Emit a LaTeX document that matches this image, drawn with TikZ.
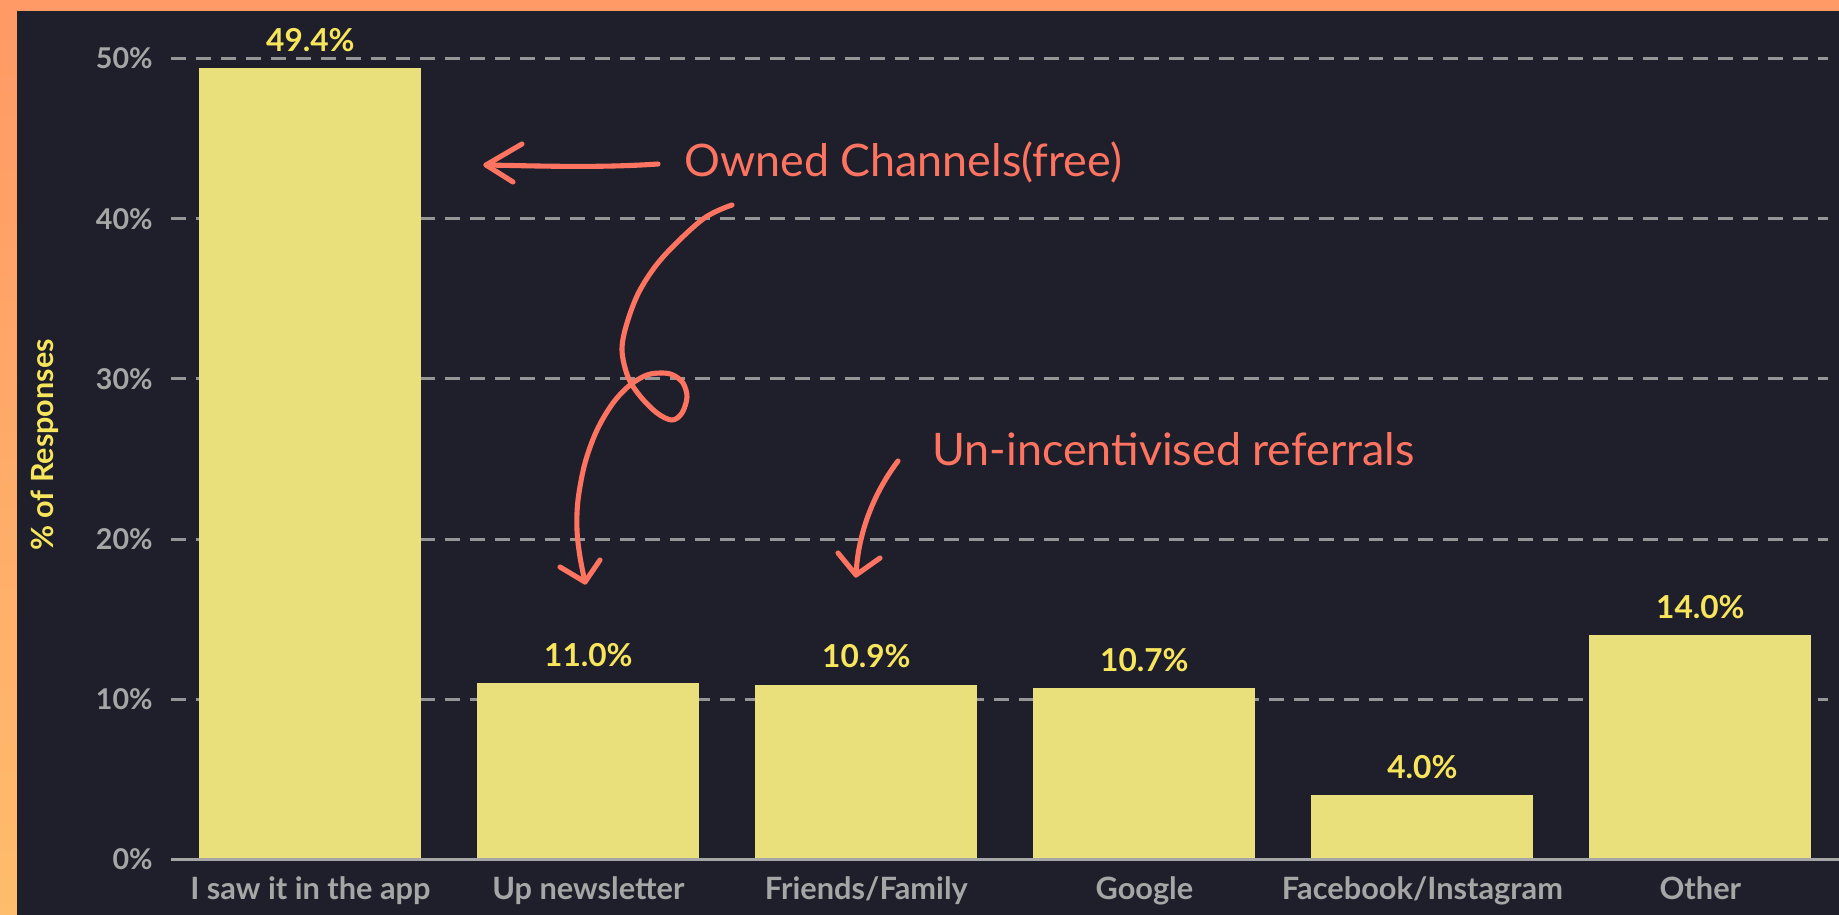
\documentclass[tikz,border=0pt]{standalone}
\usepackage{fontspec}
\setmainfont{Lato}

\definecolor{frametop}{RGB}{255,153,102}
\definecolor{framebot}{RGB}{255,188,108}
\definecolor{panel}{RGB}{31,31,43}
\definecolor{barfill}{RGB}{233,223,123}
\definecolor{valyellow}{RGB}{247,229,92}
\definecolor{axisgray}{RGB}{166,166,166}
\definecolor{gridgray}{RGB}{150,150,152}
\definecolor{coral}{RGB}{255,116,96}

\begin{document}
\begin{tikzpicture}[x=0.02cm, y=-0.02cm,
	tick/.style={text=axisgray, font=\fontsize{16.3}{19}\selectfont\bfseries, anchor=east, inner sep=0pt},
	val/.style={text=valyellow, font=\fontsize{18}{21}\selectfont\bfseries, anchor=base, inner sep=0pt},
	cat/.style={text=axisgray, font=\fontsize{17.5}{21}\selectfont\bfseries, anchor=base, inner sep=0pt},
	note/.style={text=coral, font=\fontsize{25.5}{30}\selectfont, anchor=west, inner sep=0pt},
	gridline/.style={draw=gridgray, line width=1.7pt, dash pattern=on 8.5pt off 5.7pt},
	scribble/.style={draw=coral, line width=2.9pt, line cap=round, line join=round}]
		\useasboundingbox (0,0) rectangle (1839,915);
		\shade[top color=frametop, bottom color=framebot] (0,0) rectangle (1839,915);
		\fill[panel] (17,11) rectangle (1839,915);
		
		\foreach \t/\lab in {0/0,1/10,2/20,3/30,4/40,5/50}{
			\node[tick] (tick\t) at (153,{859.5-160.2*\t}) {\lab\%};
		}
		\foreach \t in {1,...,5}
			\path[gridline] (171,{859.5-160.2*\t}) -- (1828,{859.5-160.2*\t});
		\draw[draw=axisgray, line width=1.7pt] (171,859.5) -- (1839,859.5);
		
		\foreach \i/\v/\name in {1/49.4/{I saw it in the app},2/11.0/{Up newsletter},3/10.9/{Friends/Family},4/10.7/{Google},5/4.0/{Facebook/Instagram},6/14.0/{Other}}{
			\pgfmathsetmacro{\cx}{310.4+278*(\i-1)}
			\pgfmathsetmacro{\top}{859.5-16.02*\v}
			\fill[barfill] (\cx-111,858) rectangle (\cx+111,\top);
			\node[val] (val\i) at (\cx,\top-17) {\v\%};
			\node[cat] (cat\i) at (\cx,899) {\name};
		}
		
		\node[text=valyellow, font=\fontsize{17.4}{20}\selectfont\bfseries, rotate=90, inner sep=0pt] (ytitle) at (45,445) {\% of Responses};
		
		\node[note] (owned) at (684,162) {Owned Channels(free)};
		\node[note] (referral) at (932,449) {Un-incentivised referrals};
		
		\coordinate (ownTail) at (658,164);
		\coordinate (ownTip) at (486,165);
		\coordinate (ownUp) at (522,144);
		\coordinate (ownDown) at (513,182);
		\coordinate (loopStart) at (732,205);
		\coordinate (loopTip) at (585,582);
		\coordinate (loopLeft) at (560,567);
		\coordinate (loopRight) at (600,560);
		\coordinate (refTail) at (898,461);
		\coordinate (refTip) at (856,575);
		\coordinate (refLeft) at (838,553);
		\coordinate (refRight) at (880,558);
		
		\draw[scribble] (ownTail) .. controls (600,168) and (540,166) .. (ownTip);
		\draw[scribble] (ownUp) -- (ownTip) -- (ownDown);
		\draw[scribble] plot[smooth, tension=0.55] coordinates {(loopStart) (703,219) (663,257) (640,290) (627,323) (622,350) (628,377) (640,396) (657,413) (672,420) (682,413) (687,397) (683,383) (673,375) (662,373) (647,375) (630,385) (613,403) (597,430) (585,463) (578,500) (577,530) (580,557) (loopTip)};
		\draw[scribble] (loopLeft) -- (loopTip) -- (loopRight);
		\draw[scribble] (refTail) .. controls (876,490) and (858,530) .. (refTip);
		\draw[scribble] (refLeft) -- (refTip) -- (refRight);
		
	\end{tikzpicture}
\end{document}
